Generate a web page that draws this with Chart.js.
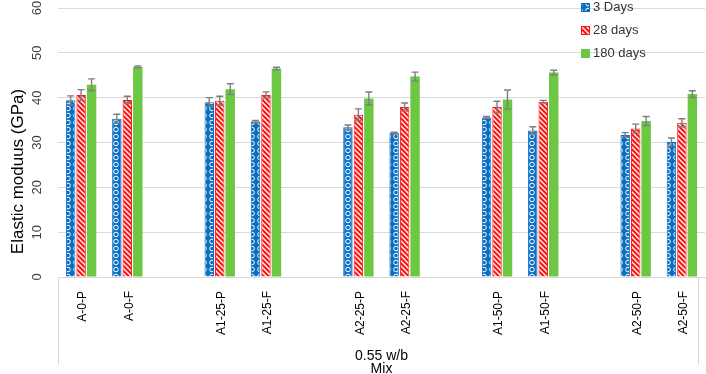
<!DOCTYPE html>
<html><head><meta charset="utf-8">
<script src="https://cdn.jsdelivr.net/npm/chart.js@4.4.0/dist/chart.umd.min.js"></script>
<style>html,body{margin:0;padding:0;background:#fff;}#wrap{width:706px;height:374px;}</style>
</head><body><div id="wrap"><canvas id="c" width="706" height="374"></canvas></div>
<script>
// ---- data ----
const categories = ['A-0-P','A-0-F','','A1-25-P','A1-25-F','','A2-25-P','A2-25-F','','A1-50-P','A1-50-F','','A2-50-P','A2-50-F'];
const seriesNames = ['3 Days','28 days','180 days'];
const days3   = [39.4, 35.3, null, 39.0, 34.7, null, 33.4, 32.1, null, 35.6, 32.7, null, 31.7, 30.1];
const days28  = [40.6, 39.5, null, 39.3, 40.6, null, 36.2, 37.9, null, 37.9, 39.1, null, 33.1, 34.4];
const days180 = [42.9, 46.9, null, 41.9, 46.5, null, 39.8, 44.7, null, 39.6, 45.6, null, 34.8, 40.8];
const err3    = [1.0, 1.0, null, 1.0, 0.2, null, 0.5, 0.2, null, 0.2, 0.8, null, 0.5, 0.9];
const err28   = [1.2, 0.8, null, 1.0, 0.7, null, 1.3, 0.9, null, 1.3, 0.3, null, 1.0, 0.9];
const err180  = [1.3, 0.2, null, 1.2, 0.3, null, 1.45, 1.0, null, 2.1, 0.5, null, 1.0, 0.75];
const groupLabel = '0.55 w/b';
const xTitle = 'Mix';
const yTitle = 'Elastic moduus (GPa)';

const FONT = "'Liberation Sans', Arial, sans-serif";
Chart.defaults.font.family = FONT;

const BLUE = '#0A6FC2', RED = '#FF1414', GREEN = '#6CC742';

function bluePattern(){
  const w = 8, h = 7;
  const c = document.createElement('canvas'); c.width = w; c.height = h;
  const g = c.getContext('2d');
  g.fillStyle = BLUE; g.fillRect(0,0,w,h);
  g.strokeStyle = '#ffffff'; g.lineWidth = 1.0;
  g.beginPath(); g.arc(4,3.5,2.3,0,Math.PI*2); g.stroke();
  return g.createPattern(c,'repeat');
}
function redPattern(){
  const s = 5;
  const c = document.createElement('canvas'); c.width = s; c.height = s;
  const g = c.getContext('2d');
  g.fillStyle = RED; g.fillRect(0,0,s,s);
  g.strokeStyle = '#ffffff'; g.lineWidth = 1.3;
  g.beginPath();
  g.moveTo(-1,-1); g.lineTo(s+1,s+1);
  g.moveTo(-1,s-1); g.lineTo(1,s+1);
  g.moveTo(s-1,-1); g.lineTo(s+1,1);
  g.stroke();
  return g.createPattern(c,'repeat');
}
const fills = [bluePattern(), redPattern(), GREEN];
const borders = [BLUE, RED, GREEN];
const values = [days3, days28, days180];
const errors = [err3, err28, err180];

const errorBarPlugin = {
  id: 'errorBars',
  afterDatasetsDraw(chart){
    const ctx = chart.ctx, y = chart.scales.y;
    ctx.save();
    ctx.strokeStyle = '#7f7f7f'; ctx.lineWidth = 1.4;
    chart.data.datasets.forEach((ds, i) => {
      const meta = chart.getDatasetMeta(i);
      meta.data.forEach((el, j) => {
        const v = ds.data[j], e = errors[i][j];
        if (v == null || e == null) return;
        const x = el.x, yt = y.getPixelForValue(v + e), yb = y.getPixelForValue(v - e);
        ctx.beginPath();
        ctx.moveTo(x, yt); ctx.lineTo(x, yb);
        ctx.moveTo(x-3.5, yt); ctx.lineTo(x+3.5, yt);
        ctx.moveTo(x-3.5, yb); ctx.lineTo(x+3.5, yb);
        ctx.stroke();
      });
    });
    ctx.restore();
  }
};

const extrasPlugin = {
  id: 'extras',
  afterDraw(chart){
    const ctx = chart.ctx, a = chart.chartArea;
    ctx.save();
    // multi-level category box lines
    ctx.strokeStyle = '#d9d9d9'; ctx.lineWidth = 1;
    ctx.beginPath();
    ctx.moveTo(a.left + 0.5, a.bottom); ctx.lineTo(a.left + 0.5, a.bottom + 88);
    ctx.moveTo(a.right - 6.5, a.bottom); ctx.lineTo(a.right - 6.5, a.bottom + 88);
    ctx.stroke();
    // y axis title
    ctx.fillStyle = '#000';
    ctx.font = "17px " + FONT;
    ctx.textAlign = 'center'; ctx.textBaseline = 'middle';
    ctx.translate(18, (a.top + a.bottom) / 2 + 29);
    ctx.rotate(-Math.PI / 2);
    ctx.fillText(yTitle, 0, 0);
    ctx.restore();
    // legend
    ctx.save();
    const lx = a.right - 124, ly0 = a.top - 1;
    ctx.font = "13px " + FONT;
    ctx.textAlign = 'left'; ctx.textBaseline = 'middle';
    seriesNames.forEach((name, i) => {
      const cy = ly0 + i * 23;
      ctx.fillStyle = fills[i];
      ctx.fillRect(lx, cy - 4, 9, 9);
      ctx.strokeStyle = borders[i]; ctx.lineWidth = 1;
      ctx.strokeRect(lx + 0.5, cy - 3.5, 8, 8);
      ctx.fillStyle = '#333';
      ctx.fillText(name, lx + 12, cy + 0.5);
    });
    ctx.restore();
  }
};

new Chart(document.getElementById('c'), {
  type: 'bar',
  data: {
    labels: categories,
    datasets: values.map((v, i) => ({
      label: seriesNames[i],
      data: v,
      backgroundColor: fills[i],
      borderColor: borders[i],
      borderWidth: i === 2 ? 0 : 1,
      categoryPercentage: 0.68,
      barPercentage: 0.9
    }))
  },
  options: {
    responsive: false,
    animation: false,
    layout: { padding: { top: 8, right: 1, left: 0, bottom: 0 } },
    plugins: { legend: { display: false }, tooltip: { enabled: false } },
    scales: {
      x: {
        grid: { display: false },
        border: { display: true, color: '#d9d9d9', width: 1 },
        ticks: { autoSkip: false, minRotation: 90, maxRotation: 90, padding: 6, labelOffset: 2, color: '#000', font: { size: 12 } },
        title: { display: true, text: [groupLabel, xTitle], color: '#000', font: { size: 14, lineHeight: '13px' }, padding: { top: 0, bottom: -2 } },
        afterFit: s => { s.height = 97; s.paddingLeft = 0; s.paddingRight = 0; }
      },
      y: {
        min: 0, max: 60,
        grid: { color: '#d9d9d9', lineWidth: 1, drawTicks: false },
        border: { display: false },
        ticks: { stepSize: 10, minRotation: 90, maxRotation: 90, crossAlign: 'center', padding: 13, color: '#404040', font: { size: 13 } },
        afterFit: s => { s.width = 58; s.paddingTop = 0; s.paddingBottom = 0; }
      }
    }
  },
  plugins: [errorBarPlugin, extrasPlugin]
});
</script>
</body></html>
